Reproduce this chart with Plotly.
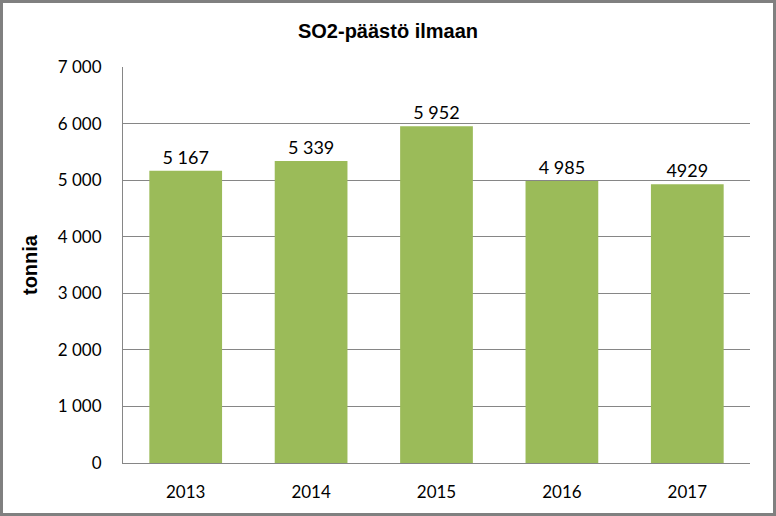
import plotly.graph_objects as go

years = ["2013", "2014", "2015", "2016", "2017"]
values = [5167, 5339, 5952, 4985, 4929]
value_labels = ["5 167", "5 339", "5 952", "4 985", "4929"]
y_ticks = [0, 1000, 2000, 3000, 4000, 5000, 6000, 7000]
y_tick_labels = ["0", "1 000", "2 000", "3 000", "4 000", "5 000", "6 000", "7 000"]

W, H = 776, 516
ml, mr, mt, mb = 123, 26, 67, 53
pw, ph = W - ml - mr, H - mt - mb

font = "Lato, Liberation Sans, sans-serif"
bold_font = "Liberation Sans, Arial, sans-serif"

fig = go.Figure(go.Bar(
    x=years, y=values,
    marker=dict(color="#9BBB59", line=dict(width=0)),
    text=value_labels, textposition="outside",
    textfont=dict(family=font, size=18, color="#000000"),
    cliponaxis=False,
))

fig.update_layout(
    width=W, height=H,
    margin=dict(l=ml, r=mr, t=mt, b=mb, pad=0),
    paper_bgcolor="white", plot_bgcolor="white",
    bargap=0.42,
    showlegend=False,
    title=dict(text="<b>SO2-päästö ilmaan</b>", x=0.5, xanchor="center",
               y=1 - 31 / H, yanchor="middle",
               font=dict(family=bold_font, size=20, color="#000000")),
    font=dict(family=font, size=17, color="#000000"),
    xaxis=dict(showgrid=False, showline=True, linecolor="#868686", linewidth=1,
               ticks="", tickfont=dict(family=font, size=17, color="#000000"),
               ticklabelstandoff=14),
    yaxis=dict(range=[0, 7000], tickvals=y_ticks, ticktext=y_tick_labels,
               showgrid=True, gridcolor="#868686", gridwidth=1,
               showline=True, linecolor="#868686", linewidth=1,
               zeroline=False, ticks="", ticklabelstandoff=17,
               tickfont=dict(family=font, size=17, color="#000000"),
               title=dict(text="<b>tonnia</b>", standoff=14,
                          font=dict(family=bold_font, size=20, color="#000000"))),
    shapes=[dict(type="rect", xref="paper", yref="paper",
                 x0=(1.5 - ml) / pw, x1=(W - 1.5 - ml) / pw,
                 y0=-(mb - 1.5) / ph, y1=1 + (mt - 1.5) / ph,
                 line=dict(color="#808080", width=3), layer="above")],
)

fig.write_html("out.html",
               config={"displayModeBar": False},
               post_script="document.body.style.margin='0';document.body.style.overflow='hidden';")
